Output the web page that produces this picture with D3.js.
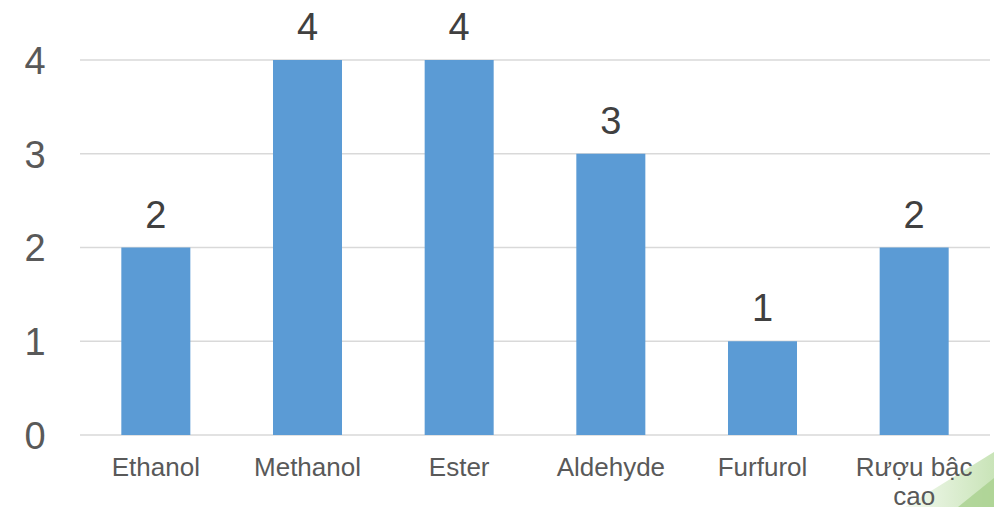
<!DOCTYPE html>
<html>
<head>
<meta charset="utf-8">
<script src="https://cdn.jsdelivr.net/npm/d3@7/dist/d3.min.js"></script>
<style>
  html, body { margin: 0; padding: 0; background: #ffffff; }
  svg { display: block; }
</style>
</head>
<body>
<svg id="chart" width="994" height="507"></svg>
<script>
// Number of parameters per compound group
const categories = ["Ethanol", "Methanol", "Ester", "Aldehyde", "Furfurol", "Rượu bậc cao"];
const values = [2, 4, 4, 3, 1, 2];
const yTicks = [0, 1, 2, 3, 4];

const svg = d3.select("#chart");
const W = 994, H = 507;
const plotLeft = 80, plotRight = 990, plotTop = 60, plotBottom = 435;
const font = "'Liberation Sans', Arial, sans-serif";

// Decorative green wedge in the lower-right corner
const defs = svg.append("defs");
const grad = defs.append("linearGradient")
  .attr("id", "wedge").attr("x1", "0").attr("y1", "0").attr("x2", "1").attr("y2", "0");
grad.append("stop").attr("offset", "0%").attr("stop-color", "#f3f9ef");
grad.append("stop").attr("offset", "100%").attr("stop-color", "#c9e4b8");
svg.append("polygon")
  .attr("points", `905,${H} ${W},452 ${W},${H}`)
  .attr("fill", "url(#wedge)");
svg.append("polygon")
  .attr("points", `958,${H} ${W},478 ${W},${H}`)
  .attr("fill", "#a9d18e").attr("opacity", 0.8);

const x = d3.scaleBand()
  .domain(categories)
  .range([plotLeft, plotRight])
  .paddingInner(0.545)
  .paddingOuter(0.2725);

const y = d3.scaleLinear()
  .domain([0, 4])
  .range([plotBottom, plotTop]);

// Horizontal gridlines
svg.append("g").selectAll("line")
  .data(yTicks)
  .join("line")
  .attr("x1", plotLeft).attr("x2", plotRight)
  .attr("y1", d => y(d)).attr("y2", d => y(d))
  .attr("stroke", "#d9d9d9").attr("stroke-width", 1.5);

// Y axis labels
const yAxis = d3.axisLeft(y).tickValues(yTicks).tickSize(0).tickPadding(0).tickFormat(d3.format("d"));
const yg = svg.append("g").attr("transform", "translate(35,0)").call(yAxis);
yg.select(".domain").remove();
yg.selectAll("text")
  .attr("text-anchor", "middle")
  .attr("x", 0)
  .attr("dy", "0.35em")
  .attr("fill", "#595959")
  .style("font-family", font)
  .style("font-size", "38px");

// Bars
svg.append("g").selectAll("rect")
  .data(values)
  .join("rect")
  .attr("x", (d, i) => x(categories[i]))
  .attr("y", d => y(d))
  .attr("width", x.bandwidth())
  .attr("height", d => y(0) - y(d))
  .attr("fill", "#5b9bd5");

// Value labels above bars
svg.append("g").selectAll("text")
  .data(values)
  .join("text")
  .attr("x", (d, i) => x(categories[i]) + x.bandwidth() / 2)
  .attr("y", d => y(d) - 20)
  .attr("text-anchor", "middle")
  .attr("fill", "#404040")
  .style("font-family", font)
  .style("font-size", "38px")
  .text(d => d);

// Category labels, wrapped to the band width
const xAxis = d3.axisBottom(x).tickSize(0).tickPadding(0);
const xg = svg.append("g").attr("transform", `translate(0,${plotBottom})`).call(xAxis);
xg.select(".domain").remove();
xg.selectAll("text")
  .attr("fill", "#595959")
  .attr("y", 0)
  .attr("dy", null)
  .style("font-family", font)
  .style("font-size", "26px")
  .each(function(d) {
    const t = d3.select(this);
    const words = d.split(" ");
    t.text(null);
    const maxW = 125;
    let line = [];
    const lines = [];
    const probe = t.append("tspan");
    words.forEach(w => {
      const trial = line.concat([w]).join(" ");
      probe.text(trial);
      if (probe.node().getComputedTextLength() > maxW && line.length) {
        lines.push(line.join(" "));
        line = [w];
      } else {
        line.push(w);
      }
    });
    lines.push(line.join(" "));
    probe.remove();
    lines.forEach((l, i) => {
      t.append("tspan")
        .attr("x", 0)
        .attr("y", 41 + i * 29)
        .text(l);
    });
  });
</script>
</body>
</html>
